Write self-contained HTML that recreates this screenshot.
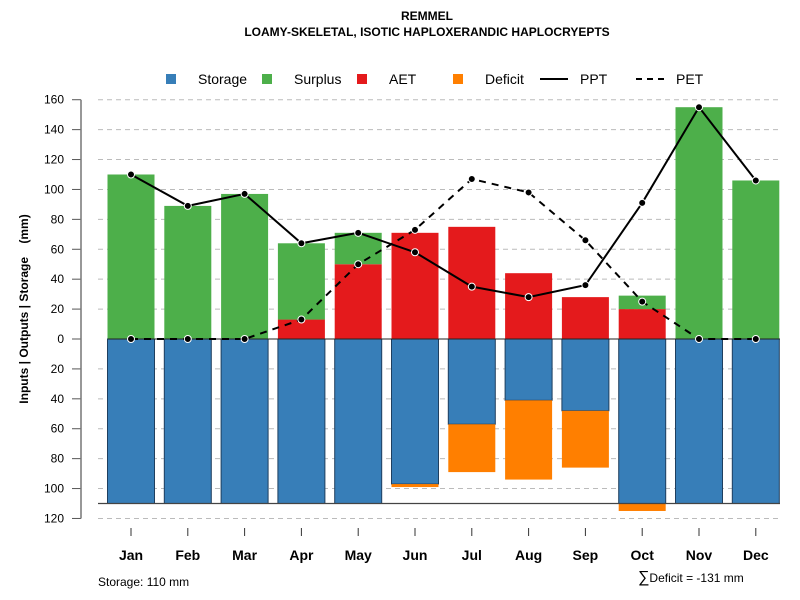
<!DOCTYPE html>
<html><head><meta charset="utf-8"><style>
body{margin:0;background:#fff;}
svg{display:block;font-family:"Liberation Sans",Arial,sans-serif;}
</style></head><body>
<svg id="chart" width="800" height="600" viewBox="0 0 800 600">
<text x="427" y="20" text-anchor="middle" font-size="12" font-weight="bold">REMMEL</text>
<text x="427" y="36" text-anchor="middle" font-size="12" font-weight="bold">LOAMY-SKELETAL, ISOTIC HAPLOXERANDIC HAPLOCRYEPTS</text>
<g font-size="14">
 <g><rect x="166" y="74" width="10" height="10" fill="#377eb8"/><text x="198" y="84">Storage</text></g>
 <g><rect x="262" y="74" width="10" height="10" fill="#4daf4a"/><text x="294" y="84">Surplus</text></g>
 <g><rect x="357" y="74" width="10" height="10" fill="#e41a1c"/><text x="389" y="84">AET</text></g>
 <g><rect x="453" y="74" width="10" height="10" fill="#ff7f00"/><text x="485" y="84">Deficit</text></g>
 <g><line x1="540" y1="79" x2="568" y2="79" stroke="#000" stroke-width="2"/><text x="580" y="84">PPT</text></g>
 <g><line x1="636" y1="79" x2="664" y2="79" stroke="#000" stroke-width="2" stroke-dasharray="6,5"/><text x="676" y="84">PET</text></g>
</g>
<text transform="translate(28,309) rotate(-90)" text-anchor="middle" font-size="12" font-weight="bold" style="white-space:pre">Inputs | Outputs | Storage    (mm)</text>
<text x="98" y="586" font-size="12">Storage: 110 mm</text>
<text x="638" y="582" font-size="12"><tspan font-size="16">∑</tspan>Deficit = -131 mm</text>
<g id="grid"></g><g id="bars"></g><g id="axes"></g><g id="lines"></g>
</svg>
<script>
const months=["Jan","Feb","Mar","Apr","May","Jun","Jul","Aug","Sep","Oct","Nov","Dec"];
const ppt=[110,89,97,64,71,58,35,28,36,91,155,106];
const pet=[0,0,0,13,50,73,107,98,66,25,0,0];
const aet=[0,0,0,13,50,71,75,44,28,20,0,0];
const surplus=[110,89,97,51,21,0,0,0,0,9,155,106];
const storage=[110,110,110,110,110,97,57,41,48,110,110,110];
const deficit=[0,0,0,0,0,2,32,53,38,5,0,0];
const yTicks=[160,140,120,100,80,60,40,20,0,-20,-40,-60,-80,-100,-120];
const storageCap=110;
const NS="http://www.w3.org/2000/svg";
function y(v){return 339-v*1.4955;}
function x(i){return 131+i*56.8;}
const bw=47;
function mk(tag,attrs,parent){const e=document.createElementNS(NS,tag);for(const k in attrs)e.setAttribute(k,attrs[k]);document.getElementById(parent).appendChild(e);return e;}
yTicks.forEach(t=>{
 if(t!==0){const g=mk('line',{x1:98,x2:782,y1:y(t),y2:y(t),stroke:'#bbb','stroke-dasharray':'5,4'},'grid');
 
 }
 const tk=mk('line',{x1:72,x2:81,y1:y(t),y2:y(t),stroke:'#555'},'axes');
 
 
 const tl=mk('text',{x:64,y:y(t)+4,'text-anchor':'end','font-size':12},'axes');tl.textContent=Math.abs(t);
 
 
});
const ax=mk('line',{x1:81,x2:81,y1:y(160),y2:y(-120),stroke:'#777','stroke-width':1.5},'axes');


months.forEach((m,i)=>{
 const cx=x(i),l=cx-bw/2;
 function bar(v0,v1,c,nm,stroke){if(v1===v0)return;const r=mk('rect',{x:l,width:bw,y:Math.min(y(v0),y(v1)),height:Math.abs(y(v1)-y(v0)),fill:c},'bars');
  if(stroke){r.setAttribute('stroke','#1f3f5f');r.setAttribute('stroke-width','1');}
  
  }
 bar(0,aet[i],'#e41a1c','aet-bar-'+m.toLowerCase());
 bar(aet[i],aet[i]+surplus[i],'#4daf4a','surplus-bar-'+m.toLowerCase());
 bar(0,-storage[i],'#377eb8','storage-bar-'+m.toLowerCase(),true);
 bar(-storage[i],-storage[i]-deficit[i],'#ff7f00','deficit-bar-'+m.toLowerCase());
 const t=mk('line',{x1:cx,x2:cx,y1:528,y2:536,stroke:'#333'},'axes');
 
 
 const lb=mk('text',{x:cx,y:560,'text-anchor':'middle','font-size':14,'font-weight':'bold'},'axes');lb.textContent=m;
 
 
});
const z=mk('line',{x1:108,x2:780,y1:y(0),y2:y(0),stroke:'#222'},'lines');


const cap=mk('line',{x1:98,x2:780,y1:y(-storageCap),y2:y(-storageCap),stroke:'#444','stroke-width':1.3},'lines');


function series(arr,dash,nm){
 const p=mk('polyline',{points:arr.map((v,i)=>x(i)+','+y(v)).join(' '),fill:'none',stroke:'#000','stroke-width':2,'stroke-dasharray':dash},'lines');
 
 
 arr.forEach((v,i)=>{const c=mk('circle',{cx:x(i),cy:y(v),r:3.5,fill:'#000',stroke:'#fff','stroke-width':1},'lines');
  
  });
}
series(pet,'7,6','pet');
series(ppt,'none','ppt');
</script>
</body></html>
